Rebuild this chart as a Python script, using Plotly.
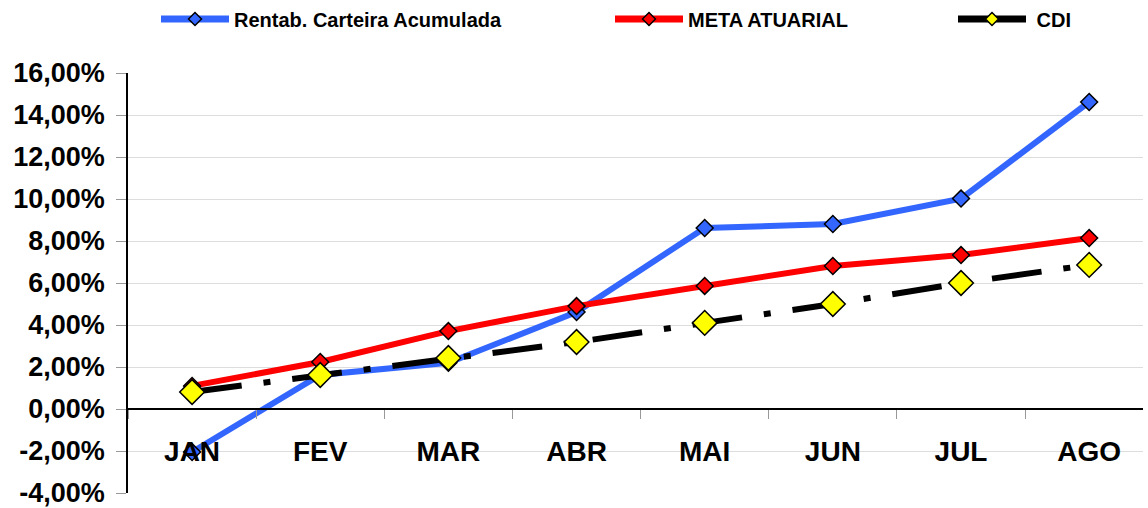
import plotly.graph_objects as go

meses = ["JAN", "FEV", "MAR", "ABR", "MAI", "JUN", "JUL", "AGO"]
carteira = [-2.05, 1.62, 2.2, 4.62, 8.62, 8.81, 10.02, 14.62]
meta = [1.10, 2.24, 3.71, 4.90, 5.86, 6.81, 7.33, 8.14]
cdi = [0.81, 1.62, 2.43, 3.19, 4.10, 5.00, 6.00, 6.86]

y_tickvals = [-4, -2, 0, 2, 4, 6, 8, 10, 12, 14, 16]
y_ticktext = ["-4,00%", "-2,00%", "0,00%", "2,00%", "4,00%", "6,00%",
              "8,00%", "10,00%", "12,00%", "14,00%", "16,00%"]

FONT = "Liberation Sans, Arial, sans-serif"
BLUE = "#3366FF"
RED = "#FF0000"
YELLOW = "#FFFF00"

W, H = 1148, 508
ml, mr, mt, mb = 128, 0, 73, 10
pw, ph = W - ml - mr, H - mt - mb
sx, sy = 5, 5  # shadow offset px
dxf, dyf = sx / pw, sy / ph
xrange_ = [-0.5, 7.42]

fig = go.Figure()

# shadow of CDI markers (on offset hidden axes)
fig.add_trace(go.Scatter(
    x=meses, y=cdi, xaxis="x", yaxis="y", mode="markers",
    marker=dict(symbol="diamond", size=19, color="black"),
    showlegend=False, hoverinfo="skip"))

fig.add_trace(go.Scatter(
    x=meses, y=carteira, xaxis="x2", yaxis="y2", mode="lines+markers",
    name="Rentab. Carteira Acumulada", showlegend=False,
    line=dict(color=BLUE, width=6),
    marker=dict(symbol="diamond", size=13, color=BLUE, line=dict(color="black", width=1.5))))

fig.add_trace(go.Scatter(
    x=meses, y=meta, xaxis="x2", yaxis="y2", mode="lines+markers",
    name="META ATUARIAL", showlegend=False,
    line=dict(color=RED, width=6),
    marker=dict(symbol="diamond", size=13, color=RED, line=dict(color="black", width=1.5))))

fig.add_trace(go.Scatter(
    x=meses, y=cdi, xaxis="x2", yaxis="y2", mode="lines+markers",
    name="CDI", showlegend=False,
    line=dict(color="black", width=6, dash="50px,22px,7px,22px"),
    marker=dict(symbol="diamond", size=19, color=YELLOW, line=dict(color="black", width=1.5))))

# legend-only entries (no data)
for nm, col, fill, lg in [("Rentab. Carteira Acumulada", BLUE, BLUE, "legend"),
                          ("META ATUARIAL", RED, RED, "legend2"),
                          ("\u00a0CDI", "black", YELLOW, "legend3")]:
    fig.add_trace(go.Scatter(
        x=[None], y=[None], xaxis="x2", yaxis="y2", mode="lines+markers",
        name=nm, legend=lg, showlegend=True,
        line=dict(color=col, width=7),
        marker=dict(symbol="diamond", size=10, color=fill, line=dict(color="black", width=1.5))))

ymin, ymax = -4, 16
main_ydom = [dyf, 1]
zero_pos = main_ydom[0] + (0 - ymin) / (ymax - ymin) * (main_ydom[1] - main_ydom[0])

legend_common = dict(orientation="h", yanchor="middle", xanchor="left",
                     xref="container", yref="container",
                     y=1 - 19 / H, itemwidth=68,
                     bgcolor="rgba(0,0,0,0)",
                     font=dict(family=FONT, size=20, color="black", weight="bold"))

fig.update_layout(
    width=W, height=H,
    margin=dict(l=ml, r=mr, t=mt, b=mb, autoexpand=False),
    plot_bgcolor="white", paper_bgcolor="white",
    hovermode=False,
    xaxis=dict(domain=[dxf, 1], type="category", categoryarray=meses,
               range=xrange_, visible=False),
    yaxis=dict(domain=[0, 1 - dyf], range=[ymin, ymax], visible=False),
    xaxis2=dict(domain=[0, 1 - dxf], type="category", categoryarray=meses,
                range=xrange_, anchor="free", position=zero_pos,
                showline=True, linecolor="black", linewidth=1.5,
                ticks="outside", tickson="boundaries", ticklen=9,
                tickcolor="#999999", tickwidth=1, showgrid=False,
                ticklabelstandoff=18,
                tickfont=dict(family=FONT, size=28, color="black", weight="bold")),
    yaxis2=dict(domain=main_ydom, anchor="x2", range=[ymin, ymax],
                tickvals=y_tickvals, ticktext=y_ticktext,
                showline=True, linecolor="black", linewidth=1.5,
                ticks="outside", ticklen=10, tickcolor="#999999", tickwidth=1,
                showgrid=True, gridcolor="#dddddd", gridwidth=1,
                zeroline=False, ticklabelstandoff=6, ticklabeloverflow="allow",
                tickfont=dict(family=FONT, size=27, color="black", weight="bold")),
    legend=dict(x=156 / W, **legend_common),
    legend2=dict(x=610 / W, **legend_common),
    legend3=dict(x=953 / W, **legend_common),
)

fig.write_html("out.html", config={"displayModeBar": False},
               post_script="document.body.style.margin='0';")
